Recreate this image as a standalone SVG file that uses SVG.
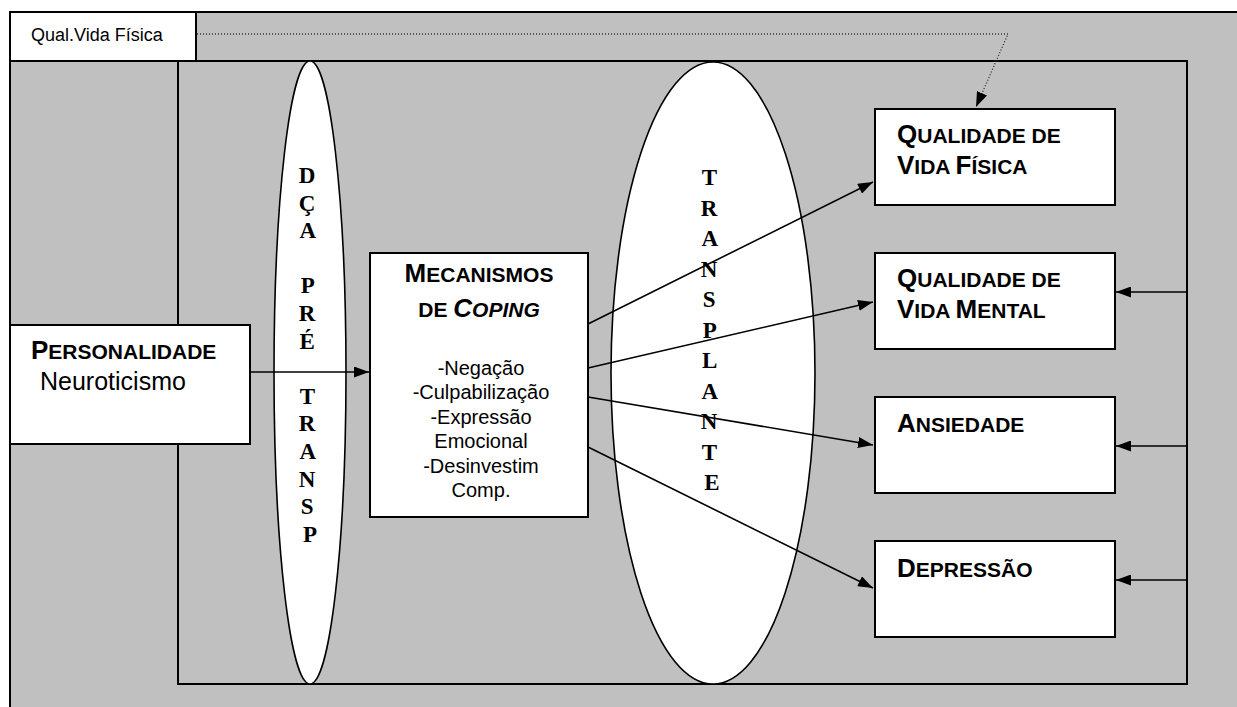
<svg xmlns="http://www.w3.org/2000/svg" width="1237" height="707" viewBox="0 0 1237 707">
  <style>
    .box { fill: #ffffff; stroke: #000000; stroke-width: 2; }
    .oval { fill: #ffffff; stroke: #000000; stroke-width: 1.6; }
    .wire { fill: none; stroke: #000000; stroke-width: 1.6; }
    .dots { fill: none; stroke: #333333; stroke-width: 1.3; stroke-dasharray: 1 2; }
    .sans { font-family: "Liberation Sans", Arial, sans-serif; fill: #000000; }
    .title { font-family: "Liberation Sans", Arial, sans-serif; font-weight: bold; fill: #000000; }
    .cap { font-size: 26px; }
    .sc { font-size: 21px; }
    .vert { font-family: "Liberation Serif", "Times New Roman", serif; font-weight: bold; font-size: 23px; fill: #000000; text-anchor: middle; }
    .list { font-family: "Liberation Sans", Arial, sans-serif; font-size: 20px; fill: #000000; text-anchor: middle; }
  </style>
  <defs>
    <marker id="head" markerUnits="userSpaceOnUse" markerWidth="15" markerHeight="11" refX="15" refY="5.5" orient="auto">
      <path d="M0,0 L15,5.5 L0,11 Z" fill="#000000"/>
    </marker>
  </defs>

  <!-- background panel -->
  <rect x="10" y="12" width="1240" height="700" fill="#c0c0c0" stroke="#000000" stroke-width="2"/>

  <!-- inner frame -->
  <rect x="178" y="61" width="1009" height="623" fill="none" stroke="#000000" stroke-width="2"/>

  <!-- label box top-left -->
  <g id="qual-vida-label">
    <rect class="box" x="10" y="12" width="186" height="49"/>
    <text class="sans" x="31" y="41" font-size="18">Qual.Vida Física</text>
  </g>

  <!-- pre-transplant band -->
  <g id="dca-pre-transp">
    <ellipse class="oval" cx="310" cy="372.5" rx="36" ry="311.5"/>
    <text class="vert">
      <tspan x="310" y="183">D</tspan>
      <tspan x="310" y="210.6">Ç</tspan>
      <tspan x="310" y="238.2">A</tspan>
      <tspan x="310" y="293.4">P</tspan>
      <tspan x="310" y="321">R</tspan>
      <tspan x="310" y="348.6">É</tspan>
      <tspan x="310" y="403.8">T</tspan>
      <tspan x="310" y="431.4">R</tspan>
      <tspan x="310" y="459">A</tspan>
      <tspan x="310" y="486.6">N</tspan>
      <tspan x="310" y="514.2">S</tspan>
      <tspan x="310" y="541.8">P</tspan>
    </text>
  </g>

  <!-- transplant band -->
  <g id="transplante">
    <ellipse class="oval" cx="713" cy="373" rx="102" ry="311"/>
    <text class="vert">
      <tspan x="712" y="185">T</tspan>
      <tspan x="712" y="215.5">R</tspan>
      <tspan x="712" y="246">A</tspan>
      <tspan x="712" y="276.5">N</tspan>
      <tspan x="712" y="307">S</tspan>
      <tspan x="712" y="337.5">P</tspan>
      <tspan x="712" y="368">L</tspan>
      <tspan x="712" y="398.5">A</tspan>
      <tspan x="712" y="429">N</tspan>
      <tspan x="712" y="459.5">T</tspan>
      <tspan x="712" y="490">E</tspan>
    </text>
  </g>

  <!-- personality -->
  <g id="personalidade">
    <rect class="box" x="10" y="325" width="240" height="119"/>
    <text class="title" x="31" y="359"><tspan class="cap">P</tspan><tspan class="sc">ERSONALIDADE</tspan></text>
    <text class="sans" x="40" y="390" font-size="25">Neuroticismo</text>
  </g>

  <!-- coping mechanisms -->
  <g id="mecanismos-coping">
    <rect class="box" x="370" y="253" width="218" height="264"/>
    <text class="title" x="479" y="282" text-anchor="middle"><tspan class="cap">M</tspan><tspan class="sc">ECANISMOS</tspan></text>
    <text class="title" x="479" y="317" text-anchor="middle"><tspan class="sc">DE </tspan><tspan class="cap" font-style="italic">C</tspan><tspan class="sc" font-style="italic">OPING</tspan></text>
    <text class="list" x="481" y="375">-Negação</text>
    <text class="list" x="481" y="399.4">-Culpabilização</text>
    <text class="list" x="481" y="423.8">-Expressão</text>
    <text class="list" x="481" y="448.2">Emocional</text>
    <text class="list" x="481" y="472.6">-Desinvestim</text>
    <text class="list" x="481" y="497">Comp.</text>
  </g>

  <!-- outcomes -->
  <g id="qv-fisica">
    <rect class="box" x="875" y="109" width="240" height="96"/>
    <text class="title" x="897" y="143"><tspan class="cap">Q</tspan><tspan class="sc">UALIDADE DE</tspan></text>
    <text class="title" x="897" y="174"><tspan class="cap">V</tspan><tspan class="sc">IDA </tspan><tspan class="cap">F</tspan><tspan class="sc">ÍSICA</tspan></text>
  </g>
  <g id="qv-mental">
    <rect class="box" x="875" y="253" width="240" height="96"/>
    <text class="title" x="897" y="287"><tspan class="cap">Q</tspan><tspan class="sc">UALIDADE DE</tspan></text>
    <text class="title" x="897" y="318"><tspan class="cap">V</tspan><tspan class="sc">IDA </tspan><tspan class="cap">M</tspan><tspan class="sc">ENTAL</tspan></text>
  </g>
  <g id="ansiedade">
    <rect class="box" x="875" y="397" width="240" height="96"/>
    <text class="title" x="897" y="432"><tspan class="cap">A</tspan><tspan class="sc">NSIEDADE</tspan></text>
  </g>
  <g id="depressao">
    <rect class="box" x="875" y="541" width="240" height="96"/>
    <text class="title" x="897" y="577"><tspan class="cap">D</tspan><tspan class="sc">EPRESSÃO</tspan></text>
  </g>

  <!-- connectors -->
  <g id="connectors">
    <polyline class="dots" points="197,34 1008,34 976,107" marker-end="url(#head)"/>
    <line class="wire" x1="250" y1="372" x2="369" y2="372" marker-end="url(#head)"/>
    <line class="wire" x1="588" y1="324" x2="873" y2="182" marker-end="url(#head)"/>
    <line class="wire" x1="588" y1="368" x2="873" y2="302" marker-end="url(#head)"/>
    <line class="wire" x1="588" y1="397" x2="873" y2="445" marker-end="url(#head)"/>
    <line class="wire" x1="588" y1="447" x2="873" y2="588" marker-end="url(#head)"/>
    <line class="wire" x1="1187" y1="292" x2="1116" y2="292" marker-end="url(#head)"/>
    <line class="wire" x1="1187" y1="446" x2="1116" y2="446" marker-end="url(#head)"/>
    <line class="wire" x1="1187" y1="580" x2="1116" y2="580" marker-end="url(#head)"/>
  </g>
</svg>
